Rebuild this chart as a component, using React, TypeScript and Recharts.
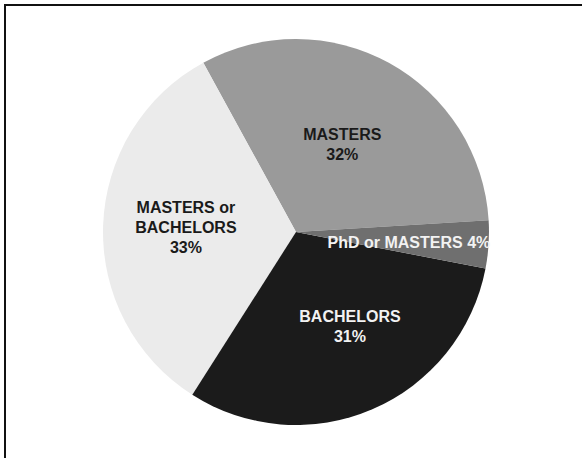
import React from "react";
import { PieChart, Pie, Cell } from "recharts";

const categories = ["MASTERS", "MASTERS or BACHELORS", "BACHELORS", "PhD or MASTERS"];
const values = [32, 33, 31, 4];
const labelLines = [
  ["MASTERS", "32%"],
  ["MASTERS or", "BACHELORS", "33%"],
  ["BACHELORS", "31%"],
  ["PhD or MASTERS 4%"],
];
const fills = ["#9a9a9a", "#ebebeb", "#1b1b1b", "#6f6f6f"];
const textColors = ["#1a1a1a", "#1a1a1a", "#f2f2f2", "#f2f2f2"];
// small label nudges (style only)
const labelNudge = [
  [-5, 5],
  [-4, -1],
  [12, -3],
  [7, 3],
];

const data = categories.map((name, i) => ({ name, value: values[i] }));

const RAD = Math.PI / 180;

const renderLabel = (props: any) => {
  const { cx, cy, midAngle, outerRadius, index } = props;
  const r = outerRadius * 0.55;
  const x = cx + r * Math.cos(-midAngle * RAD) + labelNudge[index][0];
  const y = cy + r * Math.sin(-midAngle * RAD) + labelNudge[index][1];
  const lines = labelLines[index];
  const lh = 20;
  const y0 = y - ((lines.length - 1) * lh) / 2;
  return (
    <text
      x={x}
      y={y0}
      textAnchor="middle"
      dominantBaseline="central"
      fill={textColors[index]}
      style={{ fontFamily: '"Liberation Sans", Arial, sans-serif', fontWeight: 700, fontSize: 16 }}
    >
      {lines.map((t, i) => (
        <tspan key={i} x={x} y={y0 + i * lh}>
          {t}
        </tspan>
      ))}
    </text>
  );
};

export default function App() {
  return (
    <div style={{ position: "absolute", left: 0, top: 0, width: 582, height: 458, background: "#fff", overflow: "hidden" }}>
      <div
        style={{
          position: "absolute",
          left: 4,
          top: 4,
          width: 600,
          height: 500,
          borderTop: "2px solid #111",
          borderLeft: "2px solid #111",
          boxSizing: "border-box",
        }}
      />
      <div style={{ position: "absolute", left: 0, top: 0 }}>
        <PieChart width={582} height={458} margin={{ top: 0, right: 0, bottom: 0, left: 0 }}>
          <Pie
            data={data}
            dataKey="value"
            nameKey="name"
            cx={296}
            cy={232}
            outerRadius={193}
            startAngle={3.5}
            endAngle={363.5}
            stroke="none"
            label={renderLabel}
            labelLine={false}
            isAnimationActive={false}
          >
            {data.map((d, i) => (
              <Cell key={d.name} fill={fills[i]} />
            ))}
          </Pie>
        </PieChart>
      </div>
    </div>
  );
}
